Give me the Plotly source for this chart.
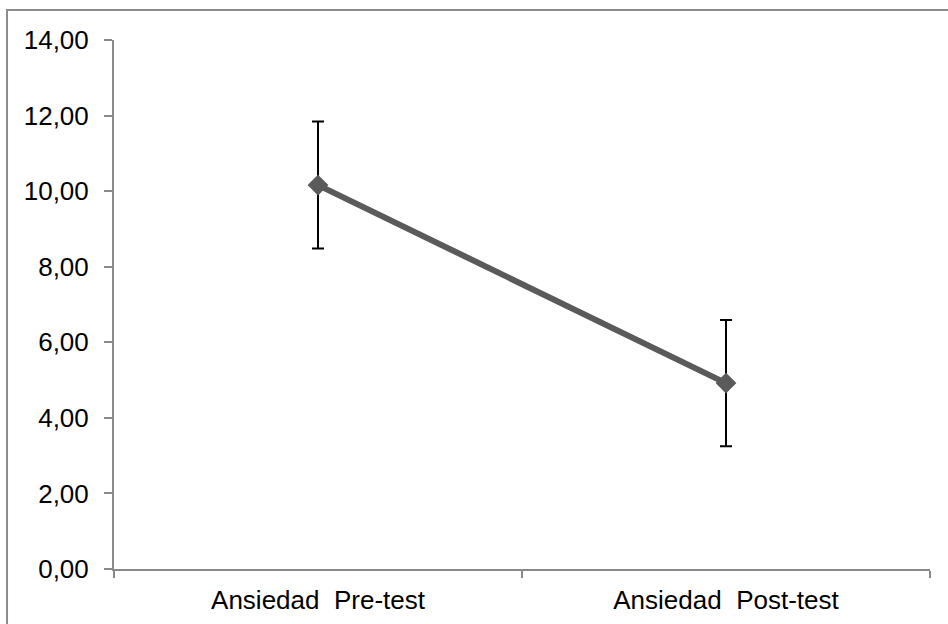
import plotly.graph_objects as go

categories = ["Ansiedad  Pre-test", "Ansiedad  Post-test"]
means = [10.16, 4.92]
errors = [1.68, 1.67]
y_ticks = [0, 2, 4, 6, 8, 10, 12, 14]
y_tick_labels = ["0,00", "2,00", "4,00", "6,00", "8,00", "10,00", "12,00", "14,00"]

fig = go.Figure()
fig.add_trace(go.Scatter(
    x=categories, y=means,
    mode="lines+markers",
    line=dict(color="#5a5a5a", width=6),
    marker=dict(symbol="diamond", size=16, color="#5a5a5a"),
    error_y=dict(type="data", array=errors, visible=True,
                 color="black", thickness=2, width=6),
    showlegend=False,
))

axis_gray = "#898989"
fig.update_layout(
    width=948, height=624,
    margin=dict(l=114, r=18, t=40, b=55),
    plot_bgcolor="white", paper_bgcolor="white",
    font=dict(family="Liberation Sans, Arial, sans-serif", size=26, color="black"),
    xaxis=dict(
        type="category", range=[-0.5, 1.5], automargin=False,
        showline=True, linecolor=axis_gray, linewidth=2,
        ticks="outside", tickson="boundaries", ticklen=7,
        tickcolor=axis_gray, tickwidth=2,
        showgrid=False, zeroline=False,
        ticklabelstandoff=7,
    ),
    yaxis=dict(
        range=[0, 14], tickvals=y_ticks, ticktext=y_tick_labels, automargin=False,
        showline=True, linecolor=axis_gray, linewidth=2,
        ticks="outside", ticklen=8, tickcolor=axis_gray, tickwidth=2,
        showgrid=False, zeroline=False,
        ticklabelstandoff=10,
    ),
    shapes=[dict(
        type="rect", xref="paper", yref="paper",
        x0=-0.1311, x1=1.2, y0=-0.3, y1=1.0567,
        line=dict(color="#8c8c8c", width=2), fillcolor="rgba(0,0,0,0)",
        layer="below",
    )],
)

fig.write_html("out.html")
